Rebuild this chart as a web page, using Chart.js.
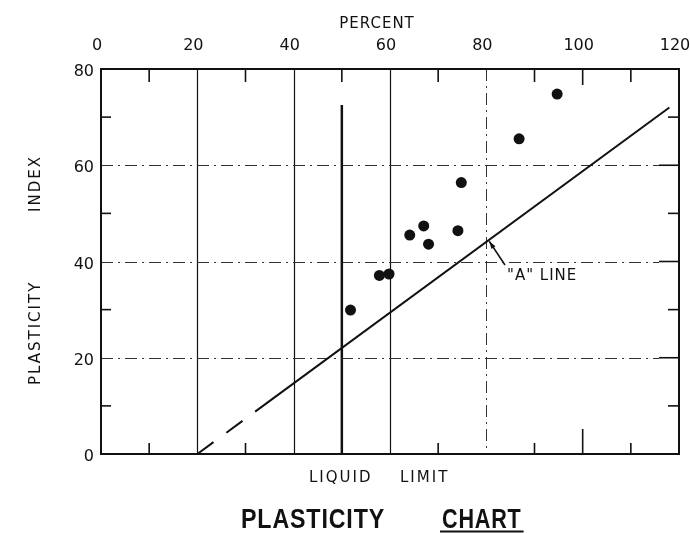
<!DOCTYPE html>
<html>
<head>
<meta charset="utf-8">
<script src="https://cdn.jsdelivr.net/npm/chart.js@4/dist/chart.umd.min.js"></script>
<style>
  html, body { margin: 0; padding: 0; background: #fff; }
  #wrap { width: 690px; height: 533px; }
</style>
</head>
<body>
<div id="wrap"><canvas id="chart" width="690" height="533"></canvas></div>
<script>
// Soil samples: liquid limit (%) and plasticity index
const liquidLimit     = [51.8, 57.8, 59.8, 64.1, 67.0, 68.0, 74.1, 74.8, 86.8, 94.7];
const plasticityIndex = [29.9, 37.1, 37.4, 45.5, 47.4, 43.6, 46.4, 56.4, 65.5, 74.8];

// Casagrande "A" line (dashed below LL 32)
const aLineLL = [20, 32, 118];
const aLinePI = [0, 8.8, 72];

// LL = 50 boundary
const boundaryLL = [50, 50];
const boundaryPI = [0, 72.5];

// Axis ticks
const xTickValues = [0, 20, 40, 60, 80, 100, 120];
const yTickValues = [0, 20, 40, 60, 80];
const xMinorTicks = [10, 30, 50, 70, 90, 110];
const yMinorTicks = [10, 30, 50, 70];
const xSolidGrid  = [20, 40, 60];
const xDashedGrid = [80];
const yDashedGrid = [20, 40, 60];
const xLongTicks  = [100];

const toPoints = (xs, ys) => xs.map((x, i) => ({ x, y: ys[i] }));

const INK = '#111';
const LETTER = '"DejaVu Sans", "Liberation Sans", sans-serif';

const paperPlugin = {
  id: 'paper',
  beforeDatasetsDraw(chart) {
    const { ctx, chartArea: a, scales: { x, y } } = chart;
    ctx.save();
    ctx.strokeStyle = INK;

    // solid vertical grid lines
    ctx.lineWidth = 1.2;
    xSolidGrid.forEach(v => {
      const px = Math.round(x.getPixelForValue(v)) + 0.5;
      ctx.beginPath(); ctx.moveTo(px, a.top); ctx.lineTo(px, a.bottom); ctx.stroke();
    });

    // dash-dot grid lines
    ctx.lineWidth = 1;
    ctx.strokeStyle = '#333';
    ctx.setLineDash([12, 5, 2, 5]);
    xDashedGrid.forEach(v => {
      const px = Math.round(x.getPixelForValue(v)) + 0.5;
      ctx.beginPath(); ctx.moveTo(px, a.top); ctx.lineTo(px, a.bottom); ctx.stroke();
    });
    yDashedGrid.forEach(v => {
      const py = Math.round(y.getPixelForValue(v)) + 0.5;
      ctx.beginPath(); ctx.moveTo(a.left, py); ctx.lineTo(a.right - 20, py); ctx.stroke();
    });
    ctx.setLineDash([]);

    // tick marks
    ctx.strokeStyle = INK;
    ctx.lineWidth = 1.6;
    const seg = (x1, y1, x2, y2) => { ctx.beginPath(); ctx.moveTo(x1, y1); ctx.lineTo(x2, y2); ctx.stroke(); };
    xMinorTicks.forEach(v => {
      const px = x.getPixelForValue(v);
      seg(px, a.top, px, a.top + 13);
      seg(px, a.bottom, px, a.bottom - 11);
    });
    xLongTicks.forEach(v => {
      const px = x.getPixelForValue(v);
      seg(px, a.top, px, a.top + 16);
      seg(px, a.bottom, px, a.bottom - 25);
    });
    yMinorTicks.forEach(v => {
      const py = y.getPixelForValue(v);
      seg(a.left, py, a.left + 10, py);
      seg(a.right, py, a.right - 11, py);
    });
    yDashedGrid.forEach(v => {
      const py = y.getPixelForValue(v);
      seg(a.right, py, a.right - 20, py);
    });

    // frame
    ctx.lineWidth = 2;
    ctx.strokeRect(a.left, a.top, a.right - a.left, a.bottom - a.top);
    ctx.restore();
  },
  afterDraw(chart) {
    const { ctx, scales: { x, y } } = chart;
    ctx.save();
    ctx.fillStyle = INK;
    ctx.strokeStyle = INK;
    ctx.textBaseline = 'alphabetic';

    // top axis caption
    ctx.font = '15px ' + LETTER;
    ctx.letterSpacing = '1px';
    ctx.textAlign = 'center';
    ctx.fillText('PERCENT', 377, 28);

    // bottom axis caption
    ctx.textAlign = 'left';
    ctx.letterSpacing = '2px';
    ctx.fillText('LIQUID', 309, 482);
    ctx.fillText('LIMIT', 400, 482);

    // vertical axis caption
    ctx.save();
    ctx.translate(40, 0);
    ctx.rotate(-Math.PI / 2);
    ctx.textAlign = 'left';
    ctx.fillText('PLASTICITY', -385, 0);
    ctx.fillText('INDEX', -212, 0);
    ctx.restore();

    // "A" line label with leader arrow
    ctx.letterSpacing = '1px';
    ctx.font = '15px ' + LETTER;
    ctx.fillText('"A" LINE', 507, 280);
    const tipX = x.getPixelForValue(80.6), tipY = y.getPixelForValue(44.2);
    const tailX = 505, tailY = 265;
    ctx.lineWidth = 1.5;
    ctx.beginPath(); ctx.moveTo(tailX, tailY); ctx.lineTo(tipX, tipY); ctx.stroke();
    const ang = Math.atan2(tipY - tailY, tipX - tailX);
    ctx.beginPath();
    ctx.moveTo(tipX, tipY);
    ctx.lineTo(tipX - 8 * Math.cos(ang - 0.3), tipY - 8 * Math.sin(ang - 0.3));
    ctx.lineTo(tipX - 8 * Math.cos(ang + 0.3), tipY - 8 * Math.sin(ang + 0.3));
    ctx.closePath(); ctx.fill();

    // chart title, lettered in a condensed face
    ctx.letterSpacing = '1px';
    ctx.font = 'bold 27px "Liberation Sans", "DejaVu Sans", sans-serif';
    const drawCondensed = (text, left, squeeze) => {
      ctx.save();
      ctx.translate(left, 528);
      ctx.scale(squeeze, 1);
      ctx.fillText(text, 0, 0);
      const w = ctx.measureText(text).width * squeeze;
      ctx.restore();
      return w;
    };
    drawCondensed('PLASTICITY', 241, 0.86);
    const cw = drawCondensed('CHART', 442, 0.8);
    ctx.lineWidth = 2;
    ctx.beginPath(); ctx.moveTo(440, 531.5); ctx.lineTo(442 + cw + 2, 531.5); ctx.stroke();
    ctx.restore();
  }
};

new Chart(document.getElementById('chart'), {
  type: 'scatter',
  data: {
    datasets: [
      {
        label: 'Samples',
        data: toPoints(liquidLimit, plasticityIndex),
        pointRadius: 5.5,
        pointBackgroundColor: INK,
        pointBorderWidth: 0,
        showLine: false
      },
      {
        label: 'A line',
        data: toPoints(aLineLL, aLinePI),
        showLine: true,
        borderColor: INK,
        borderWidth: 2,
        pointRadius: 0,
        segment: { borderDash: c => (c.p0DataIndex === 0 ? [20, 16] : []) }
      },
      {
        label: 'LL 50',
        data: toPoints(boundaryLL, boundaryPI),
        showLine: true,
        borderColor: INK,
        borderWidth: 2.5,
        pointRadius: 0
      }
    ]
  },
  options: {
    responsive: false,
    animation: false,
    devicePixelRatio: 1,
    layout: { padding: { left: 0, top: 0, right: 11, bottom: 79 } },
    plugins: { legend: { display: false }, tooltip: { enabled: false } },
    scales: {
      x: {
        type: 'linear',
        position: 'top',
        min: 0, max: 120,
        afterBuildTicks: s => { s.ticks = xTickValues.map(v => ({ value: v })); },
        ticks: { color: INK, padding: 14, labelOffset: -4, maxRotation: 0, font: { family: LETTER, size: 16 } },
        grid: { display: false, drawTicks: false },
        border: { display: false },
        afterFit: s => { s.height = 69; s.paddingLeft = 0; s.paddingRight = 0; }
      },
      y: {
        type: 'linear',
        min: 0, max: 80,
        afterBuildTicks: s => { s.ticks = yTickValues.map(v => ({ value: v })); },
        ticks: { color: INK, padding: 7, labelOffset: 3, font: { family: LETTER, size: 16 } },
        grid: { display: false, drawTicks: false },
        border: { display: false },
        afterFit: s => { s.width = 101; s.paddingTop = 0; s.paddingBottom = 0; }
      }
    }
  },
  plugins: [paperPlugin]
});
</script>
</body>
</html>
